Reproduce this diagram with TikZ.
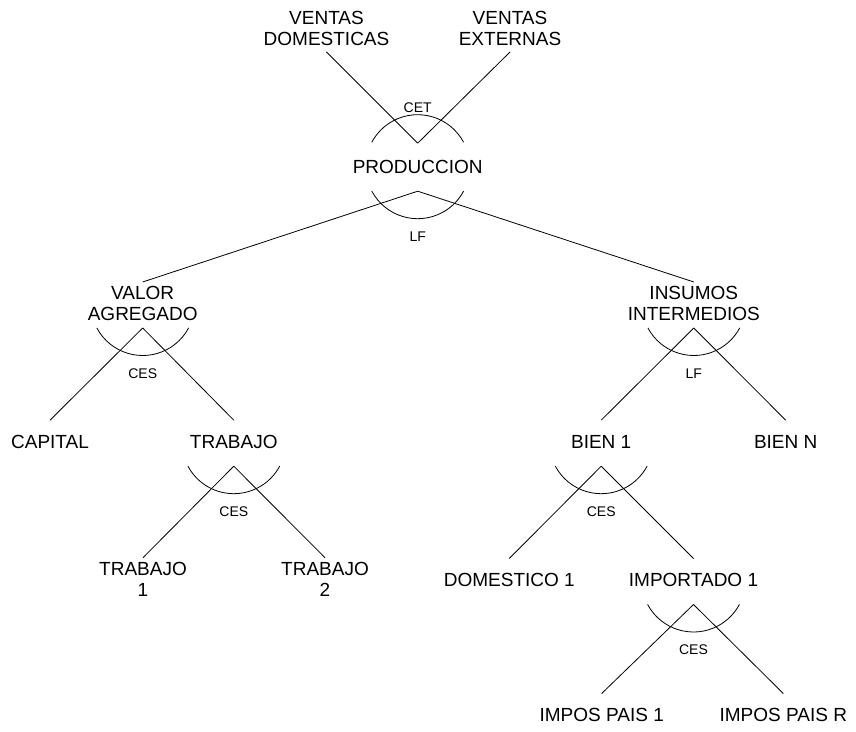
\documentclass[tikz,border=0pt]{standalone}
\usepackage{fontspec}
\setmainfont{Liberation Sans}
\usepackage{tikz}
\usetikzlibrary{positioning}
\tikzset{
    nest/.style={inner sep=0pt, align=center, font=\fontsize{19}{21.5}\selectfont},
    elas/.style={inner sep=0pt, font=\fontsize{14}{16}\selectfont},
}

\begin{document}
\begin{tikzpicture}[x=1pt, y=1pt, line width=0.8pt]
    \useasboundingbox (0,0) rectangle (856,731);

    \node[nest] (vd) at (326.5,702.7) {VENTAS\\DOMESTICAS};
    \node[nest] (ve) at (510,702.7) {VENTAS\\EXTERNAS};
    \node[nest] (prod) at (417.7,564.3) {PRODUCCION};
    \node[nest] (va) at (142.7,427.5) {VALOR\\AGREGADO};
    \node[nest] (ii) at (693.8,427.5) {INSUMOS\\INTERMEDIOS};
    \node[nest] (cap) at (50,289.3) {CAPITAL};
    \node[nest] (trab) at (233.8,289.3) {TRABAJO};
    \node[nest] (b1) at (601.2,289.3) {BIEN 1};
    \node[nest] (bn) at (785.7,289.3) {BIEN N};
    \node[nest] (t1) at (143,151.8) {TRABAJO\\1};
    \node[nest] (t2) at (325,151.8) {TRABAJO\\2};
    \node[nest] (dom) at (509.3,151) {DOMESTICO 1};
    \node[nest] (imp) at (693.5,151) {IMPORTADO 1};
    \node[nest] (ip1) at (601.7,16) {IMPOS PAIS 1};
    \node[nest] (ipr) at (783.3,16) {IMPOS PAIS R};

    % ventas -> produccion
    \draw ([yshift=-23.7pt]vd.center) -- ([yshift=23.5pt]prod.center);
    \draw ([yshift=-23.7pt]ve.center) -- ([yshift=23.5pt]prod.center);
    \draw ([shift={(28:52pt)}]prod.center) arc[start angle=28, end angle=152, radius=52pt];
    \node[elas, above=54pt of prod.center] (cet) {CET};

    % produccion
    \draw ([yshift=-24.5pt]prod.center) -- ([yshift=21.5pt]va.center);
    \draw ([yshift=-24.5pt]prod.center) -- ([yshift=21.5pt]ii.center);
    \draw ([shift={(-152:52pt)}]prod.center) arc[start angle=-152, end angle=-28, radius=52pt];
    \node[elas, below=65pt of prod.center] (lfprod) {LF};

    % valor agregado
    \draw ([yshift=-24.5pt]va.center) -- ([yshift=21.5pt]cap.center);
    \draw ([yshift=-24.5pt]va.center) -- ([yshift=21.5pt]trab.center);
    \draw ([shift={(-152:52pt)}]va.center) arc[start angle=-152, end angle=-28, radius=52pt];
    \node[elas, below=65pt of va.center] (cesva) {CES};

    % trabajo
    \draw ([yshift=-24.5pt]trab.center) -- ([yshift=21.5pt]t1.center);
    \draw ([yshift=-24.5pt]trab.center) -- ([yshift=21.5pt]t2.center);
    \draw ([shift={(-152:52pt)}]trab.center) arc[start angle=-152, end angle=-28, radius=52pt];
    \node[elas, below=65pt of trab.center] (cestrab) {CES};

    % insumos intermedios
    \draw ([yshift=-24.5pt]ii.center) -- ([yshift=21.5pt]b1.center);
    \draw ([yshift=-24.5pt]ii.center) -- ([yshift=21.5pt]bn.center);
    \draw ([shift={(-152:52pt)}]ii.center) arc[start angle=-152, end angle=-28, radius=52pt];
    \node[elas, below=65pt of ii.center] (lfii) {LF};

    % bien 1
    \draw ([yshift=-24.5pt]b1.center) -- ([yshift=21.5pt]dom.center);
    \draw ([yshift=-24.5pt]b1.center) -- ([yshift=21.5pt]imp.center);
    \draw ([shift={(-152:52pt)}]b1.center) arc[start angle=-152, end angle=-28, radius=52pt];
    \node[elas, below=65pt of b1.center] (cesb1) {CES};

    % importado 1
    \draw ([yshift=-24.5pt]imp.center) -- ([yshift=21.5pt]ip1.center);
    \draw ([yshift=-24.5pt]imp.center) -- ([yshift=21.5pt]ipr.center);
    \draw ([shift={(-152:52pt)}]imp.center) arc[start angle=-152, end angle=-28, radius=52pt];
    \node[elas, below=64pt of imp.center] (cesimp) {CES};
\end{tikzpicture}
\end{document}
